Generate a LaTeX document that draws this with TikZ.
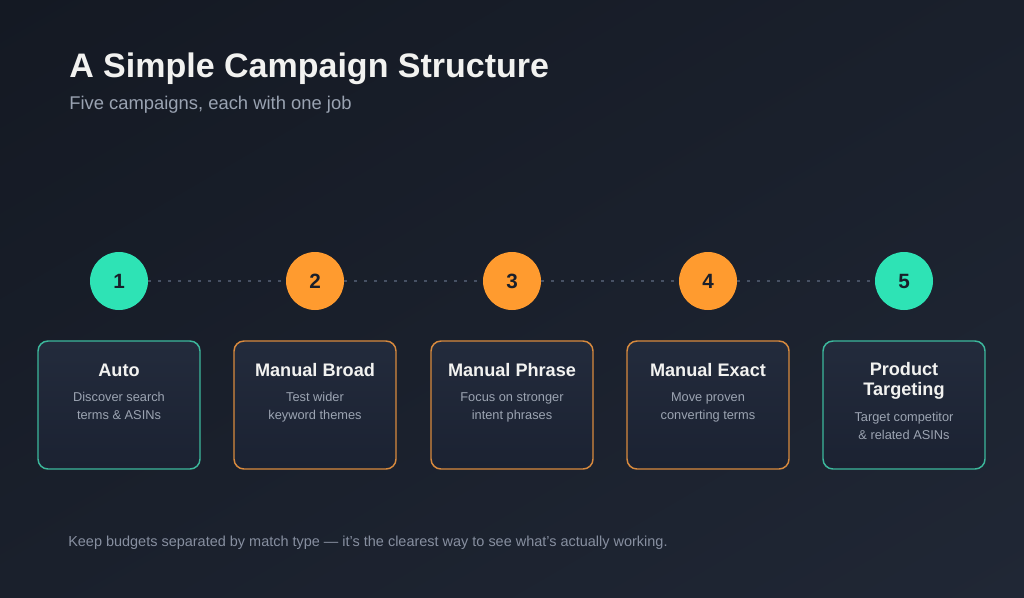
\documentclass[tikz,border=0pt]{standalone}
\usepackage{fontspec}
\setmainfont{Liberation Sans}
\usetikzlibrary{shadings}
\definecolor{bgA}{HTML}{141923}
\definecolor{bgB}{HTML}{1A202C}
\definecolor{bgC}{HTML}{202735}
\definecolor{teal}{HTML}{2EE3B5}
\definecolor{tealb}{HTML}{3CB89C}
\definecolor{orng}{HTML}{FF9B2F}
\definecolor{orngb}{HTML}{D88A3E}
\definecolor{boxtop}{HTML}{232B3C}
\definecolor{boxbot}{HTML}{1B2232}
\definecolor{titlec}{HTML}{F2F2F0}
\definecolor{subc}{HTML}{9AA3B2}
\definecolor{descc}{HTML}{9CA4B2}
\definecolor{footc}{HTML}{878FA0}
\definecolor{dotc}{HTML}{475164}
\definecolor{numc}{HTML}{1A1F2A}
\begin{document}
\begin{tikzpicture}[x=0.75pt,y=-0.75pt,
  stepcirc/.style={circle,minimum size=58*0.75pt,inner sep=0pt,font=\bfseries\fontsize{15.5}{18}\selectfont,text=numc},
  tealcirc/.style={stepcirc,fill=teal},
  orngcirc/.style={stepcirc,fill=orng},
  cardbox/.style={rounded corners=7.5pt,line width=1.1pt,top color=boxtop,bottom color=boxbot,minimum width=162*0.75pt,minimum height=128*0.75pt,inner sep=0pt},
  tealbox/.style={cardbox,draw=tealb},
  orngbox/.style={cardbox,draw=orngb},
  cardtitle/.style={anchor=base,font=\bfseries\fontsize{13.6}{14.6}\selectfont,text=titlec,align=center},
  carddesc/.style={anchor=base,font=\fontsize{9.6}{13.5}\selectfont,text=descc,align=center},
  dotline/.style={dotc,line width=2.2pt,dash pattern=on 2.2pt off 5.3pt}
]
\useasboundingbox (0,0) rectangle (1024,597);
\shade[upper left=bgA,lower left=bgB,upper right=bgB,lower right=bgC] (0,0) rectangle (1024,597);

\node[anchor=base west,font=\bfseries\fontsize{25.5}{28}\selectfont,text=titlec,inner sep=0pt] (title) at (69,77) {A Simple Campaign Structure};
\node[anchor=base west,font=\fontsize{13.8}{16}\selectfont,text=subc,inner sep=0pt] (sub) at (69,109) {Five campaigns, each with one job};

\node[tealcirc] (n1) at (119,281) {1};
\node[orngcirc] (n2) at (315,281) {2};
\node[orngcirc] (n3) at (512,281) {3};
\node[orngcirc] (n4) at (708,281) {4};
\node[tealcirc] (n5) at (904,281) {5};

\begin{scope}[on background layer/.style={}]
\end{scope}
\draw[dotline] (n1.east) -- (n2.west);
\draw[dotline] (n2.east) -- (n3.west);
\draw[dotline] (n3.east) -- (n4.west);
\draw[dotline] (n4.east) -- (n5.west);

\node[tealbox] (b1) at (119,405) {};
\node[orngbox] (b2) at (315,405) {};
\node[orngbox] (b3) at (512,405) {};
\node[orngbox] (b4) at (708,405) {};
\node[tealbox] (b5) at (904,405) {};

\node[cardtitle] (t1) at (119,376) {Auto};
\node[carddesc] (d1) at (119,419) {Discover search\\terms \& ASINs};
\node[cardtitle] (t2) at (315,376) {Manual Broad};
\node[carddesc] (d2) at (315,419) {Test wider\\keyword themes};
\node[cardtitle] (t3) at (512,376) {Manual Phrase};
\node[carddesc] (d3) at (512,419) {Focus on stronger\\intent phrases};
\node[cardtitle] (t4) at (708,376) {Manual Exact};
\node[carddesc] (d4) at (708,419) {Move proven\\converting terms};
\node[cardtitle] (t5) at (904,395) {Product\\Targeting};
\node[carddesc] (d5) at (904,439) {Target competitor\\\& related ASINs};

\node[anchor=base west,font=\fontsize{10.85}{13}\selectfont,text=footc,inner sep=0pt] (foot) at (68,546) {Keep budgets separated by match type — it’s the clearest way to see what’s actually working.};
\end{tikzpicture}
\end{document}
